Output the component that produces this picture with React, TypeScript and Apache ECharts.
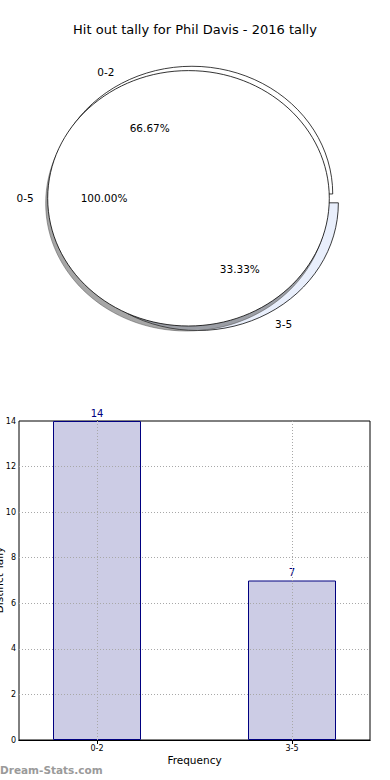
import React, { useEffect, useRef } from 'react';
import * as echarts from 'echarts';

// ---- data ----
const titleText = 'Hit out tally for Phil Davis - 2016 tally';
const pieCategories = ['0-2', '3-5'];
const pieValues = [14, 7];
const totalCategories = ['0-5'];
const totalValues = [21];
const barCategories = ['0-2', '3-5'];
const barPositions = [0, 1];
const barValues = [14, 7];
const yTickValues = [0, 2, 4, 6, 8, 10, 12, 14];
const xAxisName = 'Frequency';
const yAxisName = 'Distinct Tally';
const watermarkText = 'Dream-Stats.com';

// ---- layout / style ----
const FONT = 'DejaVu Sans';
const RX = 140.8;
const RY = 127.7;
const SEG_CENTER = [194.75, 198.4];
const TOTAL_CENTER = [188.5, 198.3];
const EXPLODE = 0.04;
const SEG_COLORS = ['#ffffff', '#e9effc'];
const TOTAL_COLORS = ['#ffffff'];
const D2R = Math.PI / 180;

function wedges(values: number[]) {
  const sum = values.reduce((a, b) => a + b, 0);
  let acc = 0;
  return values.map((v) => {
    const t1 = (acc / sum) * 360;
    acc += v;
    const t2 = (acc / sum) * 360;
    return { t1, t2, pct: (v / sum) * 100 };
  });
}

function sliceGeom(w: { t1: number; t2: number }, center: number[], explode: number) {
  const mid = ((w.t1 + w.t2) / 2) * D2R;
  const cx = center[0] + explode * RX * Math.cos(mid);
  const cy = center[1] - explode * RY * Math.sin(mid);
  return { mid, cx, cy };
}

function textEl(text: string, x: number, y: number, align: string, size: number) {
  return {
    type: 'text',
    x,
    y,
    style: {
      text,
      fill: '#000',
      font: `${size}px "${FONT}"`,
      align,
      textAlign: align,
      verticalAlign: 'middle',
      textVerticalAlign: 'middle',
    },
  };
}

function labelGroup(labels: string[], values: number[], center: number[], explode: number) {
  const ws = wedges(values);
  return (params: any) => {
    const i = params.dataIndex;
    const w = ws[i];
    const g = sliceGeom(w, center, explode);
    const lx = g.cx + 1.1 * RX * Math.cos(g.mid);
    const ly = g.cy - 1.1 * RY * Math.sin(g.mid);
    const px = g.cx + 0.6 * RX * Math.cos(g.mid);
    const py = g.cy - 0.6 * RY * Math.sin(g.mid);
    return {
      type: 'group',
      children: [
        textEl(labels[i], lx, ly, lx > g.cx ? 'left' : 'right', 10.5),
        textEl(w.pct.toFixed(2) + '%', px, py, 'center', 10.5),
      ],
    };
  };
}

function sliceShape(w: { t1: number; t2: number }, g: { cx: number; cy: number }, fill: string, stroke: string, lw: number) {
  const full = w.t2 - w.t1 >= 359.999;
  if (full) {
    return {
      type: 'ellipse',
      shape: { cx: g.cx, cy: g.cy, rx: RX, ry: RY },
      style: { fill, stroke, lineWidth: lw },
    };
  }
  return {
    type: 'sector',
    x: g.cx,
    y: g.cy,
    scaleX: 1,
    scaleY: RY / RX,
    shape: {
      cx: 0,
      cy: 0,
      r0: 0,
      r: RX,
      startAngle: -w.t2 * D2R,
      endAngle: -w.t1 * D2R,
      clockwise: true,
    },
    style: { fill, stroke, lineWidth: lw, strokeNoScale: true },
  };
}

export default function App() {
  const ref = useRef<HTMLDivElement>(null);

  useEffect(() => {
    if (!ref.current) return;
    const chart = echarts.init(ref.current, null, { renderer: 'svg', width: 390, height: 780 });
    const segW = wedges(pieValues);
    const totW = wedges(totalValues);

    const option: any = {
      animation: false,
      backgroundColor: '#ffffff',
      textStyle: { fontFamily: FONT },
      title: {
        text: titleText,
        left: 'center',
        top: 23,
        padding: 0,
        textStyle: { fontSize: 13, fontWeight: 'normal', color: '#000', fontFamily: FONT },
      },
      grid: {
        left: 19,
        right: 20,
        top: 421,
        bottom: 40,
        containLabel: false,
        outerBoundsMode: 'none',
        show: true,
        borderColor: '#000',
        borderWidth: 1,
        backgroundColor: 'transparent',
      },
      xAxis: [
        {
          type: 'value',
          position: 'bottom',
          min: -0.4,
          max: 1.4,
          axisLine: { show: true, lineStyle: { color: '#000', width: 1 } },
          axisTick: { show: true, inside: true, length: 4, customValues: barPositions, lineStyle: { color: '#000' } },
          axisLabel: {
            show: true,
            customValues: barPositions,
            formatter: (v: number) => barCategories[barPositions.indexOf(Math.round(v))] ?? '',
            fontSize: 8,
            color: '#000',
            margin: 4,
            fontFamily: FONT,
          },
          splitLine: { show: false },
          name: xAxisName,
          nameLocation: 'middle',
          nameGap: 14,
          nameTextStyle: { fontSize: 10.5, color: '#000', fontFamily: FONT },
        },
        {
          type: 'value',
          position: 'top',
          min: -0.4,
          max: 1.4,
          axisLine: { show: true, lineStyle: { color: '#000', width: 1 } },
          axisTick: { show: true, inside: true, length: 4, customValues: barPositions, lineStyle: { color: '#000' } },
          axisLabel: { show: false },
          splitLine: { show: false },
        },
      ],
      yAxis: [
        {
          type: 'value',
          position: 'left',
          min: 0,
          max: 14,
          interval: 2,
          axisLine: { show: true, lineStyle: { color: '#000', width: 1 } },
          axisTick: { show: true, inside: true, length: 4, lineStyle: { color: '#000' } },
          axisLabel: { fontSize: 8, color: '#000', margin: 3, fontFamily: FONT },
          splitLine: { show: false },
        },
        {
          type: 'value',
          position: 'right',
          min: 0,
          max: 14,
          interval: 2,
          axisLine: { show: true, lineStyle: { color: '#000', width: 1 } },
          axisTick: { show: true, inside: true, length: 4, lineStyle: { color: '#000' } },
          axisLabel: { show: false },
          splitLine: { show: false },
        },
      ],
      graphic: [
        {
          type: 'text',
          x: 4,
          y: 580,
          rotation: Math.PI / 2,
          style: {
            text: yAxisName,
            fill: '#000',
            font: `10.5px "${FONT}"`,
            align: 'center',
            textAlign: 'center',
            verticalAlign: 'bottom',
            textVerticalAlign: 'bottom',
          },
        },
        {
          type: 'text',
          x: 0,
          y: 770,
          style: {
            text: watermarkText,
            fill: '#9a9a9a',
            font: `bold 10.5px "${FONT}"`,
            align: 'left',
            textAlign: 'left',
            verticalAlign: 'middle',
            textVerticalAlign: 'middle',
          },
        },
      ],
      series: [
        {
          type: 'custom',
          coordinateSystem: 'none',
          z: 1,
          silent: true,
          data: pieValues,
          renderItem: (params: any) => {
            const i = params.dataIndex;
            const w = segW[i];
            const g = sliceGeom(w, SEG_CENTER, EXPLODE);
            return sliceShape(w, g, SEG_COLORS[i], '#000', 0.8);
          },
        },
        {
          type: 'custom',
          coordinateSystem: 'none',
          z: 2,
          silent: true,
          data: totalValues,
          renderItem: (params: any) => {
            const i = params.dataIndex;
            const w = totW[i];
            const g = sliceGeom(w, TOTAL_CENTER, 0);
            const sg = { cx: g.cx - 2, cy: g.cy + 5 };
            return {
              type: 'group',
              children: [
                sliceShape(w, sg, 'rgba(77,77,77,0.5)', 'rgba(77,77,77,0.5)', 1),
                sliceShape(w, g, TOTAL_COLORS[i], '#000', 0.8),
              ],
            };
          },
        },
        {
          type: 'custom',
          coordinateSystem: 'none',
          z: 3,
          silent: true,
          data: pieValues,
          renderItem: labelGroup(pieCategories, pieValues, SEG_CENTER, EXPLODE),
        },
        {
          type: 'custom',
          coordinateSystem: 'none',
          z: 3,
          silent: true,
          data: totalValues,
          renderItem: labelGroup(totalCategories, totalValues, TOTAL_CENTER, 0),
        },
        {
          type: 'bar',
          xAxisIndex: 0,
          yAxisIndex: 0,
          data: barPositions.map((p, i) => [p, barValues[i]]),
          barWidth: 88,
          itemStyle: { color: '#ccCCe5', borderColor: '#000080', borderWidth: 1 },
          label: {
            show: true,
            position: 'top',
            distance: 3,
            color: '#000080',
            fontSize: 10,
            fontFamily: FONT,
            formatter: (p: any) => String(p.value[1]),
          },
          markLine: {
            silent: true,
            symbol: ['none', 'none'],
            label: { show: false },
            lineStyle: { color: '#a8a8a8', type: [1, 2], width: 1 },
            data: [
              ...yTickValues.filter((v) => v > 0 && v < 14).map((v) => ({ yAxis: v })),
              ...barPositions.map((v) => ({ xAxis: v })),
            ],
          },
        },
      ],
    };

    chart.setOption(option);
    return () => chart.dispose();
  }, []);

  return (
    <div
      ref={ref}
      style={{ position: 'absolute', left: 0, top: 0, width: 390, height: 780, background: '#fff' }}
    />
  );
}
